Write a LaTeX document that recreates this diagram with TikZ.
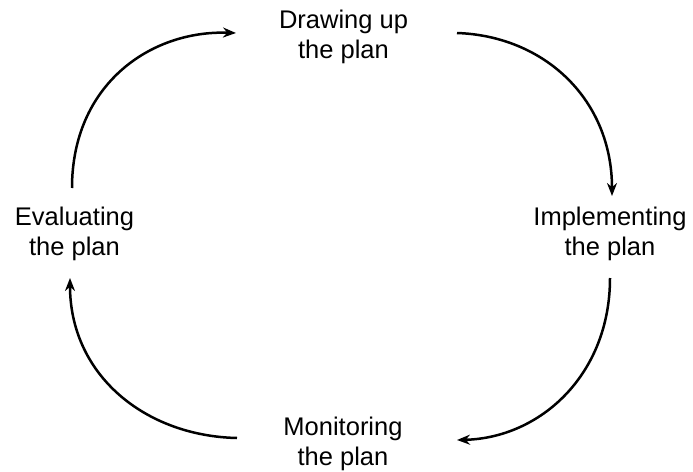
\documentclass[tikz,border=0pt]{standalone}
\usepackage{fontspec}
\setmainfont{Liberation Sans}
\usetikzlibrary{arrows.meta}
\begin{document}
\begin{tikzpicture}[x=1pt,y=-1pt,
  stage/.style={align=center,font=\fontsize{25.5}{30}\selectfont,inner sep=0pt},
  cycle/.style={line width=2.5pt,-{Stealth[length=13pt,width=10pt]}}]
\useasboundingbox (0,0) rectangle (693,471);
\node[stage] (draw) at (343.5,37) {Drawing up\\the plan};
\node[stage] (impl) at (610,234) {Implementing\\the plan};
\node[stage] (moni) at (343,444) {Monitoring\\the plan};
\node[stage] (eval) at (74.5,234) {Evaluating\\the plan};
% arc end points
\coordinate (e1) at (72,188);
\coordinate (d0) at (236,33);
\coordinate (d1) at (457,33);
\coordinate (i0) at (612,196);
\coordinate (i1) at (610,278);
\coordinate (m0) at (457,440);
\coordinate (m1) at (237,438);
\coordinate (e0) at (70,278);
\draw[cycle] (e1) .. controls (72,85) and (150,30) .. (d0);
\draw[cycle] (d1) .. controls (545,36) and (612,100) .. (i0);
\draw[cycle] (i1) .. controls (610,375) and (540,438) .. (m0);
\draw[cycle] (m1) .. controls (145,436) and (70,375) .. (e0);
\end{tikzpicture}
\end{document}
